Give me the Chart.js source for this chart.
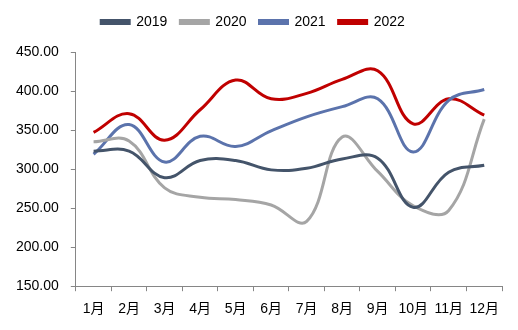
<!DOCTYPE html>
<html>
<head>
<meta charset="utf-8">
<script src="https://cdn.jsdelivr.net/npm/chart.js@4.4.1/dist/chart.umd.min.js"></script>
<style>
  html, body { margin: 0; padding: 0; background: #fff; }
  #wrap { width: 518px; height: 330px; }
</style>
</head>
<body>
<div id="wrap"><canvas id="chart"></canvas></div>
<script>
const months = ['1月', '2月', '3月', '4月', '5月', '6月', '7月', '8月', '9月', '10月', '11月', '12月'];
const v2019 = [323, 323, 289, 311, 311, 299, 301, 313, 314, 251, 296, 305];
const v2020 = [335, 336, 276, 264, 261, 254, 233, 341, 297, 253, 247, 364];
const v2021 = [319, 357, 309, 342, 329, 349, 367, 380, 390, 322, 388, 402];
const v2022 = [347, 371, 337, 376, 414, 390, 397, 415, 426, 358, 390, 369];
const yTicks = [150, 200, 250, 300, 350, 400, 450];

const fontFamily = 'Arial, "Liberation Sans", "Noto Sans CJK SC", sans-serif';
const axisColor = '#868686';

function series(label, data, color) {
  return {
    label: label,
    data: data,
    borderColor: color,
    backgroundColor: color,
    borderWidth: 3,
    tension: 0.4,
    pointRadius: 0,
    fill: false
  };
}

// extra space between the legend and the plot
const legendGap = {
  id: 'legendGap',
  beforeInit(chart) {
    const fit = chart.legend.fit;
    chart.legend.fit = function () {
      fit.bind(chart.legend)();
      this.height += 13;
    };
  }
};

new Chart(document.getElementById('chart'), {
  type: 'line',
  data: {
    labels: months,
    datasets: [
      series('2019', v2019, '#44546A'),
      series('2020', v2020, '#A5A5A5'),
      series('2021', v2021, '#5B73AC'),
      series('2022', v2022, '#C00000')
    ]
  },
  plugins: [legendGap],
  options: {
    responsive: true,
    maintainAspectRatio: false,
    animation: false,
    layout: { padding: { left: 4, right: 16, top: 2, bottom: 2 } },
    plugins: {
      tooltip: { enabled: false },
      legend: {
        position: 'top',
        labels: {
          boxWidth: 28,
          boxHeight: 3,
          padding: 13,
          color: '#000',
          font: { family: fontFamily, size: 14 }
        }
      }
    },
    scales: {
      x: {
        offset: true,
        grid: { offset: true, drawOnChartArea: false, drawTicks: true, tickLength: 5, color: axisColor },
        border: { display: true, color: axisColor, width: 1 },
        ticks: { color: '#000', padding: 10, maxRotation: 0, font: { family: fontFamily, size: 14 } }
      },
      y: {
        min: 150,
        max: 450,
        afterBuildTicks: (axis) => { axis.ticks = yTicks.map(v => ({ value: v })); },
        grid: { drawOnChartArea: false, drawTicks: true, tickLength: 5, color: axisColor },
        border: { display: true, color: axisColor, width: 1 },
        ticks: {
          color: '#000',
          padding: 12,
          font: { family: fontFamily, size: 14 },
          callback: (v) => Number(v).toFixed(2)
        }
      }
    }
  }
});
</script>
</body>
</html>
